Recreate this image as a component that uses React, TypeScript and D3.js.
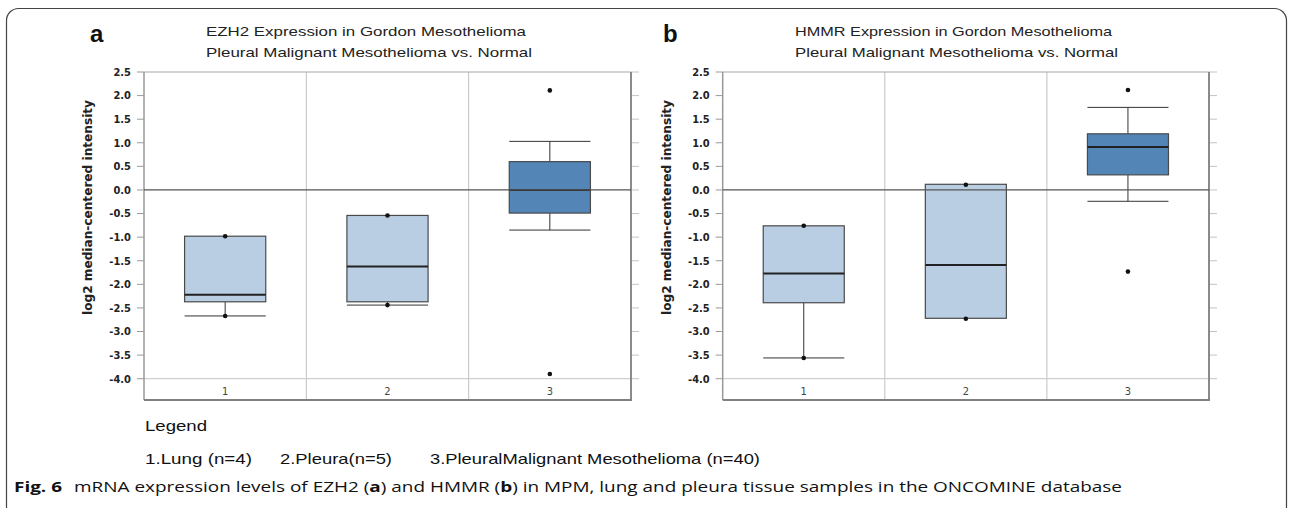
import React from 'react';
import * as d3 from 'd3';

// groups on the x axis
const categories = ['1', '2', '3'];
const boxFills = ['#bacee3', '#bacee3', '#5385b7'];

// EZH2 (panel a)
const ezh2Q3 = [-0.98, -0.54, 0.6];
const ezh2Median = [-2.22, -1.62, 0.0];
const ezh2Q1 = [-2.37, -2.37, -0.49];
const ezh2WhiskerHigh = [-0.98, -0.54, 1.03];
const ezh2WhiskerLow = [-2.67, -2.44, -0.85];
const ezh2Points = [[-0.98, -2.67], [-0.54, -2.44], [2.11, -3.9]];

// HMMR (panel b)
const hmmrQ3 = [-0.76, 0.12, 1.19];
const hmmrMedian = [-1.77, -1.59, 0.91];
const hmmrQ1 = [-2.39, -2.72, 0.32];
const hmmrWhiskerHigh = [-0.76, 0.12, 1.75];
const hmmrWhiskerLow = [-3.56, -2.72, -0.24];
const hmmrPoints = [[-0.76, -3.56], [0.11, -2.73], [2.12, -1.73]];

const yTicks = d3.range(-4, 2.51, 0.5);
const legendItems = ['1.Lung (n=4)', '2.Pleura(n=5)', '3.PleuralMalignant Mesothelioma (n=40)'];

const fmt = d3
    .formatLocale({ decimal: '.', thousands: ',', grouping: [3], currency: ['', ''], minus: '-' })
    .format('.1f');

const tickFont = '"DejaVu Sans Condensed", "DejaVu Sans", sans-serif';
const titleFont = '"Liberation Sans", Arial, sans-serif';

const Panel = ({ left, right, letter, letterX, titles, titleX, titleLens, q3, median, q1, wHigh, wLow, points }) => {
    const top = 72;
    const bottom = 400;
    const y = d3.scaleLinear().domain([-4, 2.5]).range([378.7, top]);
    const x = d3.scaleBand().domain(categories).range([left, right]);
    const bw = x.bandwidth() * 0.5;

    return (
        <g>
            <text x={letterX} y={42} fontFamily={titleFont} fontWeight="bold" fontSize={24} fill="#111">
                {letter}
            </text>
            {titles.map((t, i) => (
                <text
                    key={t}
                    x={titleX}
                    y={36 + i * 21}
                    fontFamily={titleFont}
                    fontSize={13.5}
                    fill="#222"
                    textLength={titleLens[i]}
                    lengthAdjust="spacingAndGlyphs"
                >
                    {t}
                </text>
            ))}

            {/* y axis ticks, left and right */}
            {yTicks.map(t => (
                <g key={t}>
                    <line x1={left - 7} x2={left} y1={y(t)} y2={y(t)} stroke="#999" />
                    <line x1={right} x2={right + 8} y1={y(t)} y2={y(t)} stroke="#c4c4c4" />
                    <text
                        x={left - 13}
                        y={y(t)}
                        dy="0.35em"
                        textAnchor="end"
                        fontFamily={tickFont}
                        fontWeight="bold"
                        fontSize={11}
                        fill="#222"
                    >
                        {fmt(t)}
                    </text>
                </g>
            ))}
            <text
                transform={`translate(${left - 56},${(100 + 315) / 2}) rotate(-90)`}
                textAnchor="middle"
                dy="0.35em"
                fontFamily={tickFont}
                fontWeight="bold"
                fontSize={12.5}
                fill="#222"
                textLength={215}
                lengthAdjust="spacingAndGlyphs"
            >
                log2 median-centered intensity
            </text>

            {/* column separators */}
            {categories.slice(1).map(c => (
                <line key={c} x1={x(c)} x2={x(c)} y1={top} y2={bottom} stroke="#c0c0c0" />
            ))}
            <line x1={left} x2={right} y1={y(-4)} y2={y(-4)} stroke="#cfcfcf" strokeWidth={1.2} />
            <line x1={left} x2={right} y1={top} y2={top} stroke="#a8a8a8" strokeWidth={1.2} />
            <line x1={left} x2={left} y1={top} y2={bottom} stroke="#999" strokeWidth={1.5} />
            <line x1={right} x2={right} y1={top} y2={bottom} stroke="#8a8a8a" strokeWidth={2} />
            <line x1={left} x2={right + 1} y1={bottom} y2={bottom} stroke="#808080" strokeWidth={2} />

            {categories.map(c => (
                <text
                    key={c}
                    x={x(c) + x.bandwidth() / 2}
                    y={395}
                    textAnchor="middle"
                    fontFamily={tickFont}
                    fontSize={11}
                    fill="#444"
                >
                    {c}
                </text>
            ))}

            {/* boxes */}
            {categories.map((c, i) => {
                const cx = x(c) + x.bandwidth() / 2;
                return (
                    <g key={c}>
                        {wHigh[i] > q3[i] && (
                            <>
                                <line x1={cx} x2={cx} y1={y(wHigh[i])} y2={y(q3[i])} stroke="#333" />
                                <line x1={cx - bw / 2} x2={cx + bw / 2} y1={y(wHigh[i])} y2={y(wHigh[i])} stroke="#333" />
                            </>
                        )}
                        {wLow[i] < q1[i] && (
                            <>
                                <line x1={cx} x2={cx} y1={y(q1[i])} y2={y(wLow[i])} stroke="#333" />
                                <line x1={cx - bw / 2} x2={cx + bw / 2} y1={y(wLow[i])} y2={y(wLow[i])} stroke="#333" />
                            </>
                        )}
                        <rect
                            x={cx - bw / 2}
                            y={y(q3[i])}
                            width={bw}
                            height={y(q1[i]) - y(q3[i])}
                            fill={boxFills[i]}
                            stroke="#4a4a4a"
                            strokeWidth={1.2}
                        />
                        <line x1={cx - bw / 2} x2={cx + bw / 2} y1={y(median[i])} y2={y(median[i])} stroke="#222" strokeWidth={2} />
                    </g>
                );
            })}

            <line x1={left} x2={right} y1={y(0)} y2={y(0)} stroke="#555" strokeWidth={1.3} />

            {categories.map((c, i) =>
                points[i].map(v => (
                    <circle key={c + v} cx={x(c) + x.bandwidth() / 2} cy={y(v)} r={2.3} fill="#111" />
                ))
            )}
        </g>
    );
};

export default function App() {
    return (
        <svg width={1292} height={508} style={{ position: 'absolute', left: 0, top: 0, background: '#fff' }}>
            <rect x={6.5} y={8.5} width={1280} height={510} rx={12} fill="#fff" stroke="#444" strokeWidth={1.2} />

            <Panel
                left={144}
                right={631}
                letter="a"
                letterX={90}
                titles={['EZH2 Expression in Gordon Mesothelioma', 'Pleural Malignant Mesothelioma vs. Normal']}
                titleX={206}
                titleLens={[320, 326]}
                q3={ezh2Q3}
                median={ezh2Median}
                q1={ezh2Q1}
                wHigh={ezh2WhiskerHigh}
                wLow={ezh2WhiskerLow}
                points={ezh2Points}
            />
            <Panel
                left={722.7}
                right={1209}
                letter="b"
                letterX={663}
                titles={['HMMR Expression in Gordon Mesothelioma', 'Pleural Malignant Mesothelioma vs. Normal']}
                titleX={795}
                titleLens={[317, 323]}
                q3={hmmrQ3}
                median={hmmrMedian}
                q1={hmmrQ1}
                wHigh={hmmrWhiskerHigh}
                wLow={hmmrWhiskerLow}
                points={hmmrPoints}
            />

            <text x={145} y={431} fontFamily={titleFont} fontSize={14.5} fill="#111" textLength={62} lengthAdjust="spacingAndGlyphs">
                Legend
            </text>
            {legendItems.map((t, i) => (
                <text
                    key={t}
                    x={[145, 280, 430][i]}
                    y={464}
                    fontFamily={titleFont}
                    fontSize={14.5}
                    fill="#111"
                    textLength={[107, 112, 330][i]}
                    lengthAdjust="spacingAndGlyphs"
                >
                    {t}
                </text>
            ))}

            <text x={14} y={492} fontFamily='"Open Sans", sans-serif' fontWeight="bold" fontSize={15} fill="#111" textLength={48} lengthAdjust="spacingAndGlyphs">
                Fig. 6
            </text>
            <text x={74} y={492} fontFamily='"Open Sans", sans-serif' fontSize={15} fill="#111" textLength={1048} lengthAdjust="spacingAndGlyphs">
                mRNA expression levels of EZH2 (<tspan fontWeight="bold">a</tspan>) and HMMR (
                <tspan fontWeight="bold">b</tspan>) in MPM, lung and pleura tissue samples in the ONCOMINE database
            </text>
        </svg>
    );
}
